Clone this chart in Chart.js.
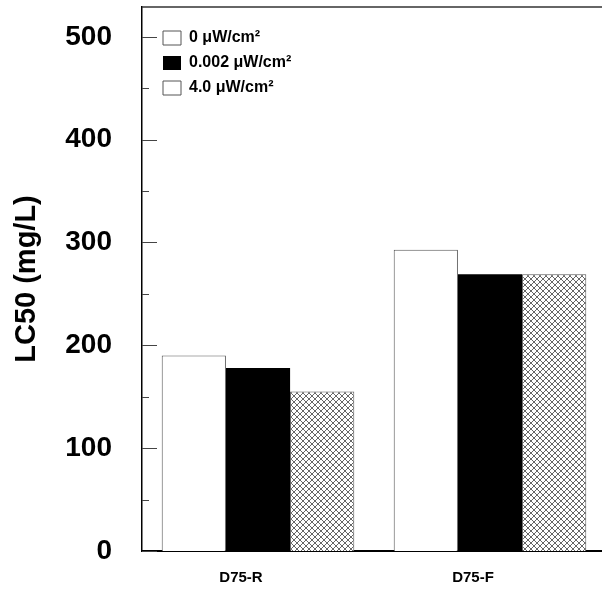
<!DOCTYPE html>
<html>
<head>
<meta charset="utf-8">
<script src="https://cdn.jsdelivr.net/npm/chart.js@4"></script>
<style>
  html, body { margin: 0; padding: 0; background: #fff; overflow: hidden; }
</style>
</head>
<body>
<canvas id="lc50Chart" width="606" height="592"></canvas>
<script>
const categories = ['D75-R', 'D75-F'];
const seriesNames = ['0 μW/cm²', '0.002 μW/cm²', '4.0 μW/cm²'];
const dose0 = [190, 293];
const dose0002 = [178, 269];
const dose40 = [155, 269];
const majorTicks = [0, 100, 200, 300, 400, 500];
const minorTicks = [50, 150, 250, 350, 450];

// fine cross-hatch fill for the 4.0 series
function crossHatch() {
    const c = document.createElement('canvas');
    c.width = 6;
    c.height = 6;
    const g = c.getContext('2d');
    g.fillStyle = '#fff';
    g.fillRect(0, 0, 6, 6);
    g.strokeStyle = '#666';
    g.lineWidth = 1;
    g.beginPath();
    g.moveTo(0, 0); g.lineTo(6, 6);
    g.moveTo(6, 0); g.lineTo(0, 6);
    g.stroke();
    return g.createPattern(c, 'repeat');
}

// inward tick marks on the y axis plus the top frame line
const frameTicks = {
    id: 'frameTicks',
    afterDraw(chart) {
        const { ctx, chartArea, scales: { y } } = chart;
        ctx.save();
        ctx.strokeStyle = '#444';
        ctx.lineWidth = 1;
        const mark = (v, len) => {
            const py = Math.round(y.getPixelForValue(v)) + 0.5;
            ctx.beginPath();
            ctx.moveTo(chartArea.left, py);
            ctx.lineTo(chartArea.left + len, py);
            ctx.stroke();
        };
        majorTicks.forEach(v => mark(v, 15));
        minorTicks.forEach(v => mark(v, 7));
        ctx.strokeStyle = '#333';
        ctx.lineWidth = 1.5;
        ctx.beginPath();
        ctx.moveTo(chartArea.left, chartArea.top);
        ctx.lineTo(chartArea.right, chartArea.top);
        ctx.stroke();
        ctx.restore();
    },
    afterLayout(chart) {
        // tuck the legend into the upper left corner of the plot
        const lg = chart.legend;
        lg.left = chart.chartArea.left + 12;
        lg.top = chart.chartArea.top + 14;
    }
};

const ctx = document.getElementById('lc50Chart').getContext('2d');
const font = "Arial, 'Liberation Sans', sans-serif";

new Chart(ctx, {
    type: 'bar',
    data: {
        labels: categories,
        datasets: [{
            label: seriesNames[0],
            data: dose0,
            backgroundColor: '#fff',
            borderColor: '#555',
            borderWidth: 1
        }, {
            label: seriesNames[1],
            data: dose0002,
            backgroundColor: '#000',
            borderColor: '#000',
            borderWidth: 0
        }, {
            label: seriesNames[2],
            data: dose40,
            backgroundColor: crossHatch(),
            borderColor: '#555',
            borderWidth: 1
        }]
    },
    plugins: [frameTicks],
    options: {
        responsive: false,
        animation: false,
        layout: { padding: { top: 7, left: 0, right: 0, bottom: 0 } },
        datasets: {
            bar: { barPercentage: 1, categoryPercentage: 0.83 }
        },
        plugins: {
            tooltip: { enabled: false },
            legend: {
                position: 'chartArea',
                align: 'start',
                labels: {
                    boxWidth: 18,
                    boxHeight: 14,
                    padding: 9,
                    color: '#000',
                    font: { family: font, size: 16, weight: 'bold' },
                    generateLabels(chart) {
                        const items = Chart.defaults.plugins.legend.labels.generateLabels(chart);
                        items[2].fillStyle = '#fff';
                        return items;
                    }
                }
            }
        },
        scales: {
            x: {
                grid: { display: false, drawTicks: false },
                border: { display: true, color: '#000', width: 2 },
                ticks: {
                    color: '#000',
                    padding: 18,
                    labelOffset: -17,
                    font: { family: font, size: 15, weight: 'bold' }
                },
                afterFit(scale) {
                    scale.height = 41;
                    scale.paddingLeft = 0;
                    scale.paddingRight = 0;
                }
            },
            y: {
                min: 0,
                max: 529,
                grid: { display: false, drawTicks: false },
                border: { display: true, color: '#000', width: 1.5 },
                ticks: {
                    stepSize: 100,
                    includeBounds: false,
                    padding: 30,
                    color: '#000',
                    font: { family: font, size: 28, weight: 'bold' }
                },
                title: {
                    display: true,
                    text: 'LC50 (mg/L)',
                    color: '#000',
                    padding: { top: 10, bottom: 0 },
                    font: { family: font, size: 29, weight: 'bold' }
                },
                afterFit(scale) {
                    scale.width = 142;
                    scale.paddingTop = 0;
                    scale.paddingBottom = 0;
                }
            }
        }
    }
});
</script>
</body>
</html>
